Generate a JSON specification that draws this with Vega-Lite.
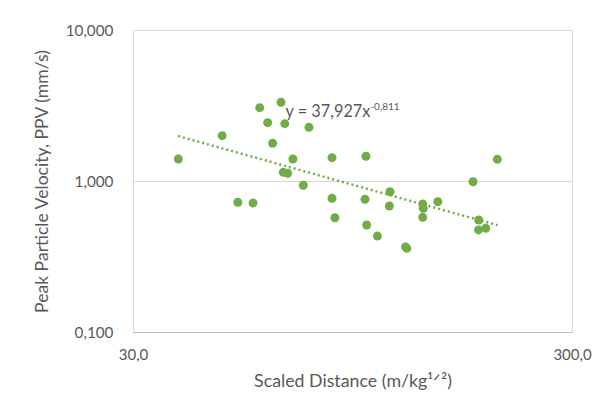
{
  "$schema": "https://vega.github.io/schema/vega-lite/v6.json",
  "autosize": {"type": "none"},
  "padding": {"left": 133, "top": 30, "right": 40, "bottom": 83},
  "width": 439,
  "height": 302,
  "background": "white",
  "config": {
    "font": "Lato",
    "view": {"stroke": null},
    "axis": {"labelColor": "#595959", "titleColor": "#595959", "titleFontWeight": "normal", "gridColor": "#d9d9d9", "gridWidth": 1, "ticks": false}
  },
  "layer": [
    {
      "data": {"values": [
        {"sd": 38.05, "ppv": 1.399},
        {"sd": 47.9, "ppv": 1.995},
        {"sd": 52.0, "ppv": 0.723},
        {"sd": 56.3, "ppv": 0.715},
        {"sd": 58.3, "ppv": 3.058},
        {"sd": 60.8, "ppv": 2.433},
        {"sd": 62.4, "ppv": 1.777},
        {"sd": 65.2, "ppv": 3.32},
        {"sd": 66.5, "ppv": 2.396},
        {"sd": 66.0, "ppv": 1.142},
        {"sd": 67.5, "ppv": 1.124},
        {"sd": 69.4, "ppv": 1.399},
        {"sd": 73.3, "ppv": 0.937},
        {"sd": 75.5, "ppv": 2.268},
        {"sd": 85.2, "ppv": 1.427},
        {"sd": 85.2, "ppv": 0.768},
        {"sd": 86.5, "ppv": 0.571},
        {"sd": 101.8, "ppv": 1.458},
        {"sd": 101.3, "ppv": 0.756},
        {"sd": 102.2, "ppv": 0.511},
        {"sd": 108.1, "ppv": 0.432},
        {"sd": 115.5, "ppv": 0.849},
        {"sd": 115.1, "ppv": 0.683},
        {"sd": 126.1, "ppv": 0.358},
        {"sd": 125.3, "ppv": 0.366},
        {"sd": 137.1, "ppv": 0.704},
        {"sd": 137.5, "ppv": 0.659},
        {"sd": 137.1, "ppv": 0.575},
        {"sd": 148.4, "ppv": 0.729},
        {"sd": 178.5, "ppv": 0.989},
        {"sd": 183.9, "ppv": 0.552},
        {"sd": 183.7, "ppv": 0.474},
        {"sd": 190.8, "ppv": 0.486},
        {"sd": 202.8, "ppv": 1.392}
      ]},
      "mark": {"type": "circle", "size": 80, "color": "#70ad47", "opacity": 1},
      "encoding": {
        "x": {
          "field": "sd", "type": "quantitative",
          "scale": {"type": "log", "domain": [30, 300], "nice": false},
          "axis": {
            "values": [30, 300],
            "labelExpr": "replace(format(datum.value, '.1f'), '.', ',')",
            "labelFontSize": 15, "labelPadding": 15, "labelFlush": false,
            "domainColor": "#bfbfbf",
            "title": "Scaled Distance (m/kg¹ᐟ²)",
            "titleFontSize": 17.8, "titlePadding": 10
          }
        },
        "y": {
          "field": "ppv", "type": "quantitative",
          "scale": {"type": "log", "domain": [0.1, 10], "nice": false},
          "axis": {
            "values": [0.1, 1, 10],
            "labelExpr": "replace(format(datum.value, '.3f'), '.', ',')",
            "labelFontSize": 15.3, "labelPadding": 20,
            "domain": false,
            "title": "Peak Particle Velocity, PPV (mm/s)",
            "titleFontSize": 17.6, "titlePadding": 14
          }
        }
      }
    },
    {
      "data": {"values": [
        {"sd": 38.0, "ppv": 1.985},
        {"sd": 203.0, "ppv": 0.51}
      ]},
      "mark": {"type": "line", "color": "#70ad47", "strokeWidth": 2.5, "strokeDash": [2, 3]},
      "encoding": {
        "x": {"field": "sd", "type": "quantitative"},
        "y": {"field": "ppv", "type": "quantitative"}
      }
    },
    {
      "data": {"values": [{"sd": 104.2, "ppv": 2.654, "label": "y = 37,927x"}]},
      "mark": {"type": "text", "align": "right", "baseline": "alphabetic", "fontSize": 16.3, "color": "#595959"},
      "encoding": {
        "x": {"field": "sd", "type": "quantitative"},
        "y": {"field": "ppv", "type": "quantitative"},
        "text": {"field": "label"}
      }
    },
    {
      "data": {"values": [{"sd": 104.2, "ppv": 2.953, "label": "-0,811"}]},
      "mark": {"type": "text", "align": "left", "baseline": "alphabetic", "fontSize": 10, "color": "#595959"},
      "encoding": {
        "x": {"field": "sd", "type": "quantitative"},
        "y": {"field": "ppv", "type": "quantitative"},
        "text": {"field": "label"}
      }
    }
  ]
}
